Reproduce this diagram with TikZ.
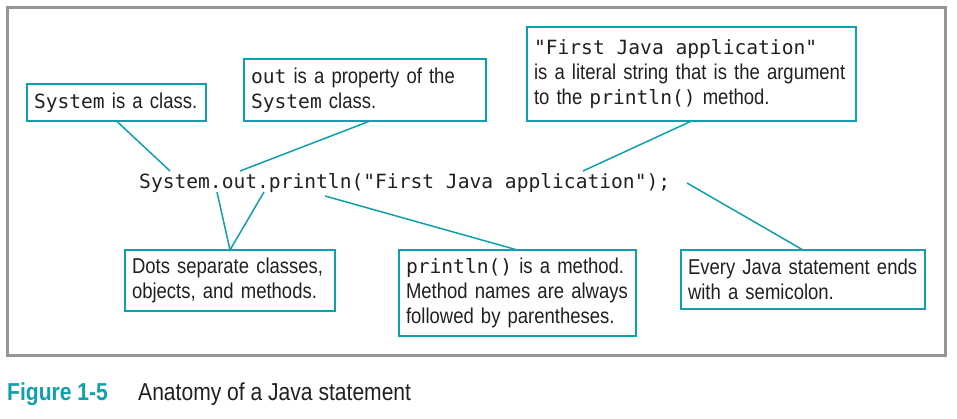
\documentclass[tikz,border=0pt]{standalone}
\usepackage{fontspec}
\setmainfont{Liberation Sans}[FakeStretch=0.86]
\setmonofont{DejaVu Sans Mono}
\usepackage{tikz}
\usetikzlibrary{calc}
\definecolor{callout}{HTML}{0FA0AD}
\definecolor{framegray}{HTML}{939598}
\definecolor{ink}{HTML}{231F20}
\tikzset{
  box/.style={draw=callout,line width=2pt,anchor=north west,align=left,inner xsep=7pt,
    inner ysep=0pt,outer sep=0pt,text=ink,font=\fontsize{21.5}{25}\selectfont},
  lnk/.style={draw=callout,line width=1.5pt},
  capt/.style={anchor=base west,inner sep=0pt,text=ink,font=\fontsize{24.5}{25}\selectfont}
}
\newcommand{\jv}[1]{{\ttfamily\fontsize{19.6}{25}\selectfont\spaceskip=0pt\xspaceskip=0pt #1}}
\hyphenpenalty=10000

\begin{document}
\begin{tikzpicture}[x=1pt,y=-1pt]
 \useasboundingbox (0,0) rectangle (957,418);
 \draw[framegray,line width=3pt] (7,7) rectangle (945,355);
 % the statement and the points the callouts touch
 \node[anchor=base west,inner sep=0pt,text=ink] (code) at (139,188) {\jv{System.out.println("First Java application");}};
 \coordinate (cls) at (170,171);
 \coordinate (prop) at (240,171);
 \coordinate (dotA) at (217,192);
 \coordinate (dotB) at (264,192);
 \coordinate (mth) at (325,196);
 \coordinate (str) at (583,171);
 \coordinate (semic) at (687,183);
 % callouts
 \node[box,text width=165pt,minimum height=37pt] (sys) at (27,84) {\jv{System} is a class.};
 \node[box,text width=228pt,minimum height=62pt] (outp) at (244,59) {\jv{out} is a property of the\\\jv{System} class.};
 \node[box,text width=315pt,minimum height=94pt] (lit) at (527,27) {\jv{"First Java application"}\\is a literal string that is the argument\\to the \jv{println()} method.};
 \node[box,text width=196pt,minimum height=61pt] (dots) at (125,250) {Dots separate classes,\\objects, and methods.};
 \node[box,text width=223pt,minimum height=86pt] (meth) at (399,250) {\jv{println()} is a method.\\Method names are always\\followed by parentheses.};
 \node[box,text width=230pt,minimum height=59pt] (semi) at (681,250) {Every Java statement ends\\with a semicolon.};
 \draw[lnk] (sys.south) -- (cls);
 \draw[lnk] ([xshift=5pt]outp.south) -- (prop);
 \draw[lnk] (lit.south) -- (str);
 \draw[lnk] (dotA) -- (dots.north) -- (dotB);
 \draw[lnk] (mth) -- (meth.north);
 \draw[lnk] (semic) -- (semi.north);
 % caption
 \node[capt,text=callout,font=\bfseries\fontsize{24.5}{25}\selectfont] (fig) at (7,400) {Figure 1-5};
 \node[capt] (cap) at (138,400) {Anatomy of a Java statement};
\end{tikzpicture}
\end{document}
